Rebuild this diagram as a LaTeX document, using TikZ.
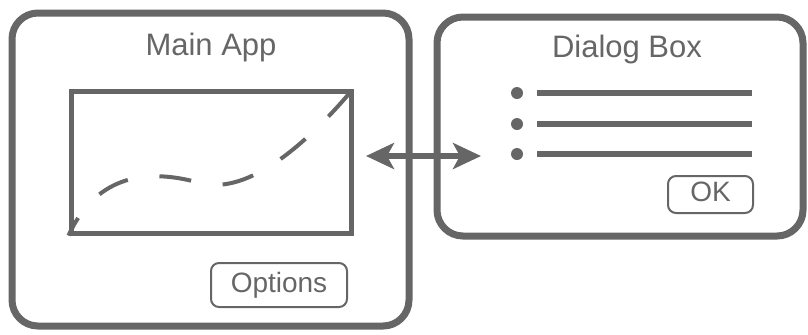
\documentclass[tikz,border=0pt]{standalone}
\usepackage{fontspec}
\setmainfont{Liberation Sans}
\usetikzlibrary{arrows.meta,positioning}
\definecolor{ink}{HTML}{666666}
\tikzset{
  panel/.style={draw=ink,line width=3.5pt,rounded corners=13pt,inner sep=0pt},
  canvas/.style={draw=ink,line width=2.5pt,inner sep=0pt},
  btn/.style={draw=ink,line width=1pt,rounded corners=4pt,text=ink,font=\fontsize{14}{16}\selectfont,text height=0.72em,text depth=0pt,inner sep=0pt},
  ttl/.style={text=ink,font=\fontsize{15.5}{18}\selectfont,anchor=base,inner sep=0pt},
  dot/.style={circle,fill=ink,minimum size=6pt,inner sep=0pt},
  darr/.style={{Stealth[length=14pt,width=13pt,inset=3.5pt]}-{Stealth[length=14pt,width=13pt,inset=3.5pt]},draw=ink,line width=3pt},
}

\begin{document}
\begin{tikzpicture}[x=0.5pt,y=-0.5pt]
\useasboundingbox (0,0) rectangle (808,334);
% main window
\node[panel,minimum width=198.5pt,minimum height=156.5pt] (main) at (210.5,169.5) {};
\node[ttl] (maint) at (211,55) {Main App};
\node[canvas,minimum width=140pt,minimum height=71pt] (plot) at (211,162) {};
\draw[ink,line width=2pt,dash pattern=on 16pt off 16pt,dash phase=6pt] (plot.south west) .. controls (94,180) and (140,166) .. (200,183) .. controls (250,196) and (310,140) .. (plot.north east);
\node[btn,minimum width=68pt,minimum height=22pt] (opt) at (279,285) {Options};
% dialog
\node[panel,minimum width=183pt,minimum height=109.5pt] (dlg) at (620,126.5) {};
\node[ttl] (dlgt) at (627,57) {Dialog Box};
\foreach \i/\y in {1/93,2/124,3/154} {
  \node[dot] (b\i) at (517,\y) {};
  \draw[ink,line width=3pt] (537,\y) -- (752,\y);
}
\node[btn,minimum width=42.5pt,minimum height=18.5pt] (ok) at (710.5,194.5) {OK};
% link
\coordinate (arL) at (366,156);
\coordinate (arR) at (481,156);
\draw[darr] (arL) -- (arR);
\end{tikzpicture}
\end{document}
